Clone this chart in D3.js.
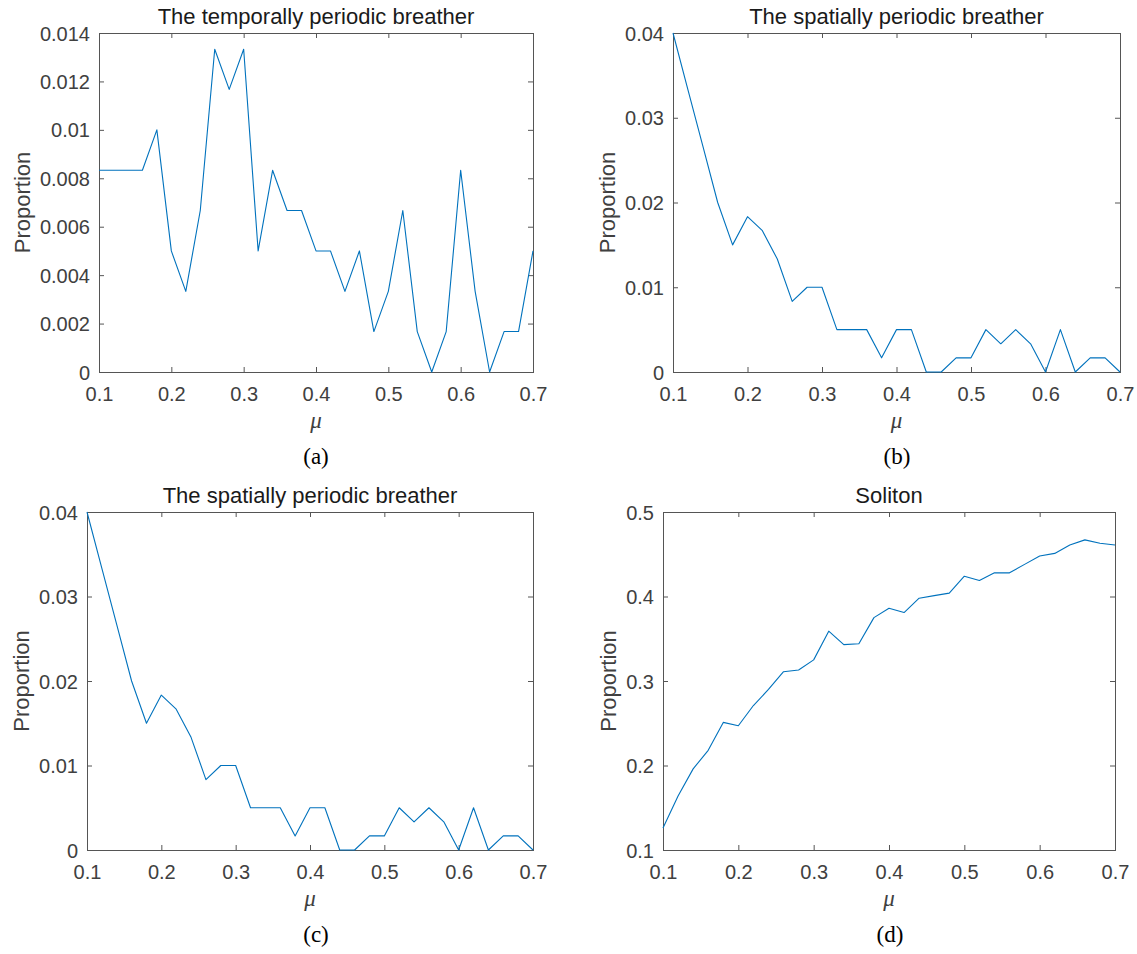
<!DOCTYPE html>
<html>
<head>
<meta charset="utf-8">
<script src="https://cdn.jsdelivr.net/npm/d3@7"></script>
<style>
  body { margin: 0; background: #fff; }
  svg text { font-family: "Liberation Sans", Arial, sans-serif; }
</style>
</head>
<body>
<svg id="fig" width="1137" height="954"></svg>
<script>
// mu grid shared by all four panels
var mu = [0.10, 0.12, 0.14, 0.16, 0.18, 0.20, 0.22, 0.24, 0.26, 0.28, 0.30,
          0.32, 0.34, 0.36, 0.38, 0.40, 0.42, 0.44, 0.46, 0.48, 0.50,
          0.52, 0.54, 0.56, 0.58, 0.60, 0.62, 0.64, 0.66, 0.68, 0.70]

// (a) temporally periodic breather
var temporal = [0.00833, 0.00833, 0.00833, 0.00833, 0.01, 0.005, 0.00333, 0.00667, 0.01333, 0.01167, 0.01333,
                0.005, 0.00833, 0.00667, 0.00667, 0.005, 0.005, 0.00333, 0.005, 0.00167, 0.00333,
                0.00667, 0.00167, 0, 0.00167, 0.00833, 0.00333, 0, 0.00167, 0.00167, 0.005]

// (b) and (c) spatially periodic breather
var spatial = [0.04, 0.03333, 0.02667, 0.02, 0.015, 0.01833, 0.01667, 0.01333, 0.00833, 0.01, 0.01,
               0.005, 0.005, 0.005, 0.00167, 0.005, 0.005, 0, 0, 0.00167, 0.00167,
               0.005, 0.00333, 0.005, 0.00333, 0, 0.005, 0, 0.00167, 0.00167, 0]

// (d) soliton
var soliton = [0.126, 0.164, 0.196, 0.218, 0.251, 0.247, 0.271, 0.290, 0.311, 0.313, 0.325,
               0.359, 0.343, 0.344, 0.375, 0.386, 0.381, 0.398, 0.401, 0.404, 0.424,
               0.419, 0.428, 0.428, 0.438, 0.448, 0.451, 0.461, 0.467, 0.463, 0.461]

var xTicks = [0.1, 0.2, 0.3, 0.4, 0.5, 0.6, 0.7]
var yTicksA = [0, 0.002, 0.004, 0.006, 0.008, 0.01, 0.012, 0.014]
var yTicksB = [0, 0.01, 0.02, 0.03, 0.04]
var yTicksD = [0.1, 0.2, 0.3, 0.4, 0.5]

var titles = ['The temporally periodic breather', 'The spatially periodic breather',
              'The spatially periodic breather', 'Soliton']
var captions = ['(a)', '(b)', '(c)', '(d)']

function main(){
	var svg = d3.select('#fig')
	var panels = [
		{x0: 99,  x1: 533,  y0: 33,  y1: 372, vals: temporal, yd: [0, 0.014], yt: yTicksA, cap: 316},
		{x0: 673, x1: 1120, y0: 33,  y1: 372, vals: spatial,  yd: [0, 0.04],  yt: yTicksB, cap: 897},
		{x0: 87,  x1: 533,  y0: 512, y1: 850, vals: spatial,  yd: [0, 0.04],  yt: yTicksB, cap: 316},
		{x0: 663, x1: 1115, y0: 512, y1: 850, vals: soliton,  yd: [0.1, 0.5], yt: yTicksD, cap: 890}
	]
	panels.forEach(function(p, i){ draw(svg, p, i) })
}

function draw(svg, p, i){
	var g = svg.append('g')
	var sx = d3.scaleLinear().domain([0.1, 0.7]).range([p.x0, p.x1])
	var sy = d3.scaleLinear().domain(p.yd).range([p.y1, p.y0])
	var axisCol = '#555'
	var tl = 5

	// box
	g.append('rect')
		.attr('x', p.x0).attr('y', p.y0)
		.attr('width', p.x1 - p.x0).attr('height', p.y1 - p.y0)
		.style('fill', 'none').style('stroke', axisCol).style('stroke-width', 1)
		.attr('shape-rendering', 'crispEdges')

	// inward ticks, both sides
	var bottom = d3.axisBottom(sx).tickValues(xTicks).tickSizeInner(-tl).tickSizeOuter(0).tickFormat(d3.format('.1f'))
	var top = d3.axisTop(sx).tickValues(xTicks).tickSizeInner(-tl).tickSizeOuter(0).tickFormat('')
	var fmt = function(d){ return d === 0 ? '0' : String(+d.toFixed(3)) }
	var left = d3.axisLeft(sy).tickValues(p.yt).tickSizeInner(-tl).tickSizeOuter(0).tickFormat(fmt)
	var right = d3.axisRight(sy).tickValues(p.yt).tickSizeInner(-tl).tickSizeOuter(0).tickFormat('')

	var gb = g.append('g').attr('transform', 'translate(0,' + p.y1 + ')').call(bottom)
	var gt = g.append('g').attr('transform', 'translate(0,' + p.y0 + ')').call(top)
	var gl = g.append('g').attr('transform', 'translate(' + p.x0 + ',0)').call(left)
	var gr = g.append('g').attr('transform', 'translate(' + p.x1 + ',0)').call(right)
	;[gb, gt, gl, gr].forEach(function(a){
		a.select('.domain').remove()
		a.selectAll('line').style('stroke', axisCol)
		a.selectAll('text').style('font-size', '20px').style('fill', '#404040')
			.style('font-family', '"Liberation Sans", Arial, sans-serif')
	})
	gb.selectAll('text').attr('dy', null).attr('y', 29)
	gl.selectAll('text').attr('x', -9).attr('dy', '0.35em')

	// data line
	var line = d3.line()
		.x(function(d, k){ return sx(mu[k]) })
		.y(function(d){ return sy(d) })
	g.append('path')
		.datum(p.vals)
		.attr('d', line)
		.style('fill', 'none')
		.style('stroke', '#0072BD')
		.style('stroke-width', 1.1)
		.style('stroke-linejoin', 'round')

	// title
	g.append('text')
		.attr('x', (p.x0 + p.x1) / 2).attr('y', p.y0 - 9)
		.attr('text-anchor', 'middle')
		.style('font-size', '22px').style('fill', '#1a1a1a')
		.text(titles[i])

	// y label, placed left of the widest tick label
	var w = 0
	gl.selectAll('text').each(function(){ w = Math.max(w, this.getBBox().width) })
	var lx = p.x0 - 9 - w - 10
	g.append('text')
		.attr('transform', 'translate(' + lx + ',' + (p.y0 + p.y1) / 2 + ') rotate(-90)')
		.attr('text-anchor', 'middle')
		.style('font-size', '22px').style('fill', '#404040')
		.text('Proportion')

	// x label
	g.append('text')
		.attr('x', (p.x0 + p.x1) / 2).attr('y', p.y1 + 56)
		.attr('text-anchor', 'middle')
		.style('font-family', '"Liberation Serif", "Times New Roman", serif')
		.style('font-style', 'italic')
		.style('font-size', '23px').style('fill', '#404040')
		.text('\u03bc')

	// caption
	g.append('text')
		.attr('x', p.cap).attr('y', p.y1 + 92)
		.attr('text-anchor', 'middle')
		.style('font-family', '"Liberation Serif", "Times New Roman", serif')
		.style('font-size', '23px').style('fill', '#000')
		.text(captions[i])
}

main()
</script>
</body>
</html>
